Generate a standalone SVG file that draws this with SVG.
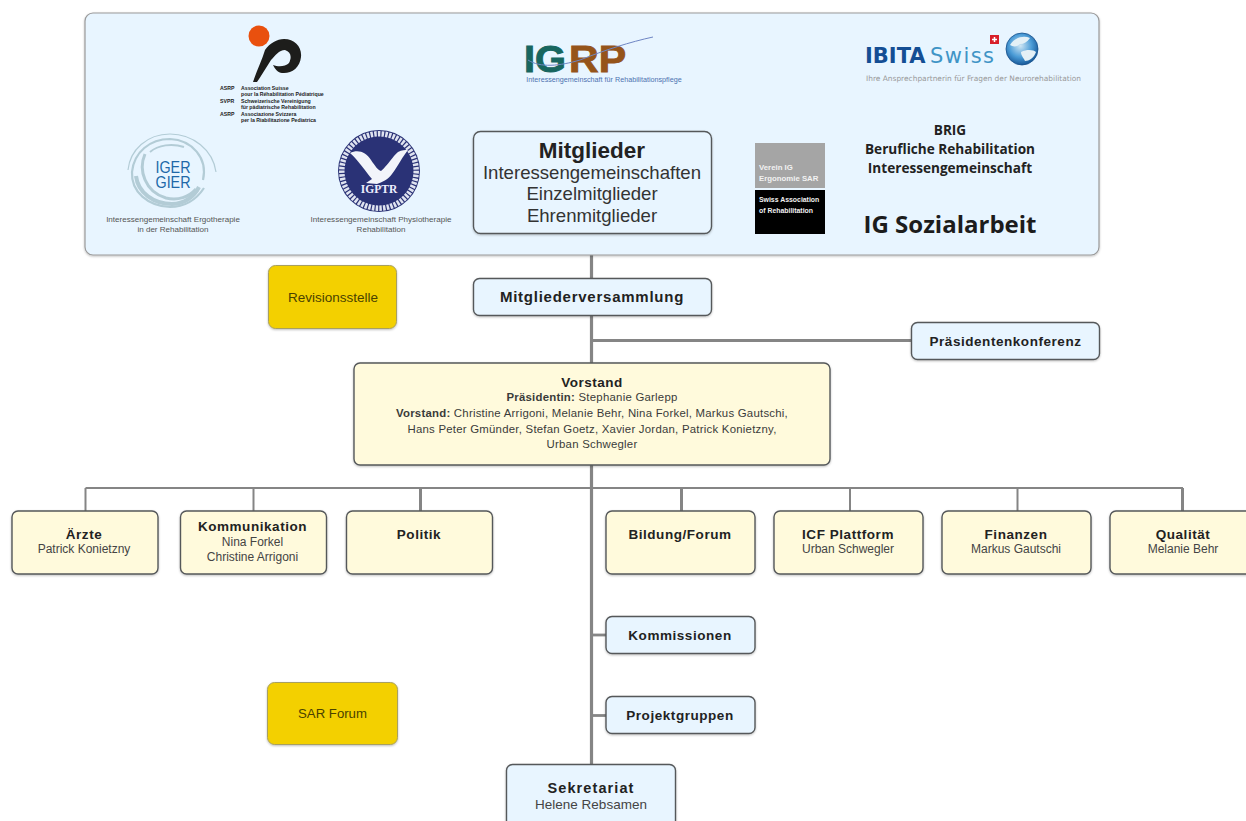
<svg xmlns="http://www.w3.org/2000/svg" width="1246" height="821" viewBox="0 0 1246 821">
<style>
text{font-family:"Liberation Sans",Arial,sans-serif;fill:#222;text-anchor:middle}
.blue{fill:#e8f5ff;stroke:#55585a;stroke-width:1.4}
.cream{fill:#fffadc;stroke:#55585a;stroke-width:1.4}
.gold{fill:#f3d000;stroke:#a8a060;stroke-width:1}
.b{font-weight:700}
.h{font-size:13.5px;font-weight:700;letter-spacing:.55px}
.n{font-size:12px;fill:#444}
.v{font-size:11.4px;fill:#3a3a3a;letter-spacing:.24px}
.cap{font-size:8.050px;fill:#555}
.conn{stroke:#858585;fill:none}
.asrp{font-size:5.200px;font-weight:700;text-anchor:start;fill:#222}
.so{font-family:"Open Sans","Noto Sans",sans-serif;font-weight:700}
.big{font-size:18.600px;fill:#333}
.ver{text-anchor:start;font-weight:700;fill:#f2f2f2}
.swirl{fill:none;stroke:#b3ccd6}
.igerl{font-size:17px;fill:#2068a8}
</style>
<defs>
<filter id="s" x="-5%" y="-10%" width="110%" height="125%"><feDropShadow dx="0" dy="1" stdDeviation="1" flood-color="#000" flood-opacity=".25"/></filter>
<radialGradient id="globe" cx=".45" cy=".4" r=".65"><stop offset="0" stop-color="#cfe6f4"/><stop offset=".55" stop-color="#4a9bd6"/><stop offset="1" stop-color="#0f4c8c"/></radialGradient>
</defs>
<rect width="1246" height="821" fill="#fff"/>
<g id="connectors" class="conn">
<path d="M591.500 255V364" stroke-width="3.200"/>
<path d="M591.500 465V765" stroke-width="3.200"/>
<path d="M592 340.500H911" stroke-width="2.800"/>
<path d="M85.500 488H1183" stroke-width="2"/>
<path d="M85.500 488V511" stroke-width="2"/>
<path d="M253.500 488V511" stroke-width="2"/>
<path d="M420.500 488V511" stroke-width="3"/>
<path d="M681.500 488V511" stroke-width="3"/>
<path d="M850 488V511" stroke-width="2"/>
<path d="M1017.500 488V511" stroke-width="2"/>
<path d="M1182.500 488V511" stroke-width="3"/>
<path d="M592 635H606" stroke-width="2.800"/>
<path d="M592 715.500H606" stroke-width="2.800"/>
</g>
<g id="mitglieder-panel"><rect class="blue" x="85" y="13" width="1014" height="242" rx="8" filter="url(#s)" style="stroke:#999;stroke-width:1.200"/></g>
<g id="logo-asrp">
<circle cx="259" cy="36" r="10.500" fill="#e9500e"/>
<path d="M253 82C257 70 262 60 265 50C270 43 277 39 284 39C295 39 302 47 301 57C300 68 291 74 282 73C278 73 275 69 273 65C278 67 285 67 289 63C292 57 291 52 285 50C279 50 275 56 271 60C266 68 261 76 257 82Z" fill="#1d1d1b"/>
<text class="asrp" x="220" y="89.500">ASRP</text><text class="asrp" x="241" y="89.500">Association Suisse</text>
<text class="asrp" x="241" y="96">pour la Réhabilitation Pédiatrique</text>
<text class="asrp" x="220" y="102.500">SVPR</text><text class="asrp" x="241" y="102.500">Schweizerische Vereinigung</text>
<text class="asrp" x="241" y="109">für pädiatrische Rehabilitation</text>
<text class="asrp" x="220" y="115.500">ASRP</text><text class="asrp" x="241" y="115.500">Associazione Svizzera</text>
<text class="asrp" x="241" y="122">per la Riabilitazione Pediatrica</text>
</g>
<g id="logo-igrp">
<text x="524" y="71.500" textLength="42" lengthAdjust="spacingAndGlyphs" style="text-anchor:start;font-size:37px;font-weight:700;fill:#17665f;stroke:#17665f;stroke-width:.9">IG</text>
<text x="569" y="71.500" textLength="57" lengthAdjust="spacingAndGlyphs" style="text-anchor:start;font-size:37px;font-weight:700;fill:#95541a;stroke:#95541a;stroke-width:.9">RP</text>
<path d="M528 60C540 68 560 66 580 60C605 50 630 42 653 37" stroke="#6f86c4" stroke-width="1" fill="none"/>
<text x="604" y="81.500" style="font-size:7.200px;fill:#4d72b0">Interessengemeinschaft für Rehabilitationspflege</text>
</g>
<g id="logo-ibita">
<text x="865" y="63" style="text-anchor:start;font-size:21px;font-weight:700;fill:#144e94;font-family:'DejaVu Sans',sans-serif">IBITA</text>
<text x="930" y="63" textLength="64" style="text-anchor:start;font-size:21px;fill:#3f94c6;font-family:'DejaVu Sans',sans-serif">Swiss</text>
<rect x="990" y="35" width="9" height="9" fill="#d8202a"/><path d="M994.500 37V42M992 39.500H997" stroke="#fff" stroke-width="1.500"/>
<circle cx="1022" cy="49" r="16" fill="url(#globe)" stroke="#16508c" stroke-width=".8"/>
<path d="M1010 45C1014 38 1023 35 1030 38C1027 42 1024 44 1020 44C1017 47 1013 47 1010 45ZM1021 52C1027 49 1034 50 1036 52C1034 58 1029 61 1025 61C1024 58 1021 56 1021 52Z" fill="#e4f0f6"/>
<text x="973.500" y="80.500" style="font-size:7.450px;fill:#999;font-family:'DejaVu Sans',sans-serif">Ihre Ansprechpartnerin für Fragen der Neurorehabilitation</text>
</g>
<g id="logo-iger">
<path class="swirl" d="M216 172C213 150 193 134 170 134C147 134 130 150 128 170" stroke-width="1.200"/>
<path class="swirl" d="M203 180C208 158 192 140 170 139C150 139 134 152 132 172C131 192 148 206 170 207C184 207 196 200 204 188" stroke-width="2.200"/>
<path class="swirl" d="M136 176C138 193 154 204 172 204C184 204 194 197 199 187" stroke-width="4"/>
<path class="swirl" d="M145 154C138 170 145 192 166 198C178 201 189 197 196 189" stroke-width="3"/>
<path class="swirl" d="M150 152C158 145 172 143 184 147" stroke-width="2"/>
<text class="igerl" x="173" y="172.500" textLength="35" lengthAdjust="spacingAndGlyphs">IGER</text>
<text class="igerl" x="173" y="187.500" textLength="35" lengthAdjust="spacingAndGlyphs">GIER</text>
<text class="cap" x="173" y="222">Interessengemeinschaft Ergotherapie</text>
<text class="cap" x="173" y="232">in der Rehabilitation</text>
</g>
<g id="logo-igptr">
<circle cx="379" cy="171" r="41" fill="#2a3276"/>
<circle cx="379" cy="171" r="37.200" fill="none" stroke="#dfe3f0" stroke-width="5.500" stroke-dasharray="2.500 1.200"/>
<circle cx="379" cy="171" r="33.500" fill="#2a3276"/>
<path d="M350 153C358 149 366 152 371 160C375 166 378 170 381 171C388 165 393 156 398 152C402 150 405 150 408 150C403 156 398 166 392 174C388 180 382 182 377 184L366 183L372 179C366 172 358 160 350 153Z" fill="#f2f4fa"/>
<text x="379" y="193" style="font-size:11.500px;font-weight:700;fill:#eef;font-family:'Liberation Serif',serif">IGPTR</text>
<text class="cap" x="381" y="222">Interessengemeinschaft Physiotherapie</text>
<text class="cap" x="381" y="232">Rehabilitation</text>
</g>
<g id="logo-verein">
<rect x="755" y="143" width="70" height="45" fill="#a5a5a5"/>
<rect x="755" y="190" width="70" height="44" fill="#000"/>
<text class="ver" x="759" y="170" style="font-size:7.800px">Verein IG</text>
<text class="ver" x="759" y="181" style="font-size:7.800px">Ergonomie SAR</text>
<text class="ver" x="759" y="202" style="font-size:6.900px">Swiss Association</text>
<text class="ver" x="759" y="213" style="font-size:6.900px">of Rehabilitation</text>
</g>
<g id="logo-brig">
<text class="so" x="950" y="135" style="font-size:13.600px">BRIG</text>
<text class="so" x="950" y="154" style="font-size:13.600px">Berufliche Rehabilitation</text>
<text class="so" x="950" y="172.500" style="font-size:13.600px">Interessengemeinschaft</text>
</g>
<g id="logo-sozialarbeit"><text class="so" x="950" y="233" style="font-size:24px;fill:#1c1c1c">IG Sozialarbeit</text></g>
<g id="mitglieder">
<rect class="blue" x="473.500" y="131.500" width="238" height="102" rx="7" filter="url(#s)"/>
<text class="b" x="592" y="157.500" style="font-size:22.500px">Mitglieder</text>
<text class="big" x="592" y="179">Interessengemeinschaften</text>
<text class="big" x="592" y="200">Einzelmitglieder</text>
<text class="big" x="592" y="222">Ehrenmitglieder</text>
</g>
<g id="revisionsstelle"><rect class="gold" x="268.500" y="265.500" width="128" height="63" rx="7" filter="url(#s)"/><text x="333" y="302" style="font-size:13.500px;fill:#4a4200">Revisionsstelle</text></g>
<g id="mitgliederversammlung"><rect class="blue" x="473.500" y="278.500" width="238" height="37" rx="6" filter="url(#s)"/><text class="b" x="592" y="302" style="font-size:15px;letter-spacing:.75px">Mitgliederversammlung</text></g>
<g id="praesidentenkonferenz"><rect class="blue" x="911.500" y="322.500" width="188" height="37" rx="6" filter="url(#s)"/><text class="h" x="1005.500" y="346">Präsidentenkonferenz</text></g>
<g id="vorstand">
<rect class="cream" x="354" y="363" width="476" height="102" rx="6" filter="url(#s)"/>
<text class="b" x="592" y="387" style="font-size:13.500px;letter-spacing:.5px">Vorstand</text>
<text class="v" x="592" y="401"><tspan class="b">Präsidentin:</tspan> Stephanie Garlepp</text>
<text class="v" x="592" y="417"><tspan class="b">Vorstand:</tspan> Christine Arrigoni, Melanie Behr, Nina Forkel, Markus Gautschi,</text>
<text class="v" x="592" y="433">Hans Peter Gmünder, Stefan Goetz, Xavier Jordan, Patrick Konietzny,</text>
<text class="v" x="592" y="448">Urban Schwegler</text>
</g>
<g id="aerzte"><rect class="cream" x="12" y="511" width="146" height="63" rx="6" filter="url(#s)"/><text class="h" x="84" y="539">Ärzte</text><text class="n" x="84" y="553">Patrick Konietzny</text></g>
<g id="kommunikation"><rect class="cream" x="180.500" y="511" width="146" height="63" rx="6" filter="url(#s)"/><text class="h" x="252.500" y="531">Kommunikation</text><text class="n" x="252.500" y="546">Nina Forkel</text><text class="n" x="252.500" y="561">Christine Arrigoni</text></g>
<g id="politik"><rect class="cream" x="346.500" y="511" width="146" height="63" rx="6" filter="url(#s)"/><text class="h" x="419" y="539">Politik</text></g>
<g id="bildung"><rect class="cream" x="606" y="511" width="149" height="63" rx="6" filter="url(#s)"/><text class="h" x="680" y="539">Bildung/Forum</text></g>
<g id="icf"><rect class="cream" x="774" y="511" width="149" height="63" rx="6" filter="url(#s)"/><text class="h" x="848" y="539">ICF Plattform</text><text class="n" x="848" y="553">Urban Schwegler</text></g>
<g id="finanzen"><rect class="cream" x="942" y="511" width="149" height="63" rx="6" filter="url(#s)"/><text class="h" x="1016" y="539">Finanzen</text><text class="n" x="1016" y="553">Markus Gautschi</text></g>
<g id="qualitaet"><rect class="cream" x="1110" y="511" width="149" height="63" rx="6" filter="url(#s)"/><text class="h" x="1183" y="539">Qualität</text><text class="n" x="1183" y="553">Melanie Behr</text></g>
<g id="kommissionen"><rect class="blue" x="606" y="616.500" width="149" height="37" rx="6" filter="url(#s)"/><text class="h" x="680" y="640">Kommissionen</text></g>
<g id="projektgruppen"><rect class="blue" x="606" y="696.500" width="149" height="37" rx="6" filter="url(#s)"/><text class="h" x="680" y="720">Projektgruppen</text></g>
<g id="sar-forum"><rect class="gold" x="267.500" y="682.500" width="130" height="62" rx="7" filter="url(#s)"/><text x="332.500" y="718" style="font-size:13.200px;fill:#4a4200">SAR Forum</text></g>
<g id="sekretariat"><rect class="blue" x="506.500" y="764.500" width="169" height="70" rx="6" filter="url(#s)"/><text class="b" x="591" y="793" style="font-size:14.500px;letter-spacing:1.100px">Sekretariat</text><text x="591" y="809" style="font-size:13.500px;fill:#444">Helene Rebsamen</text></g>
</svg>
